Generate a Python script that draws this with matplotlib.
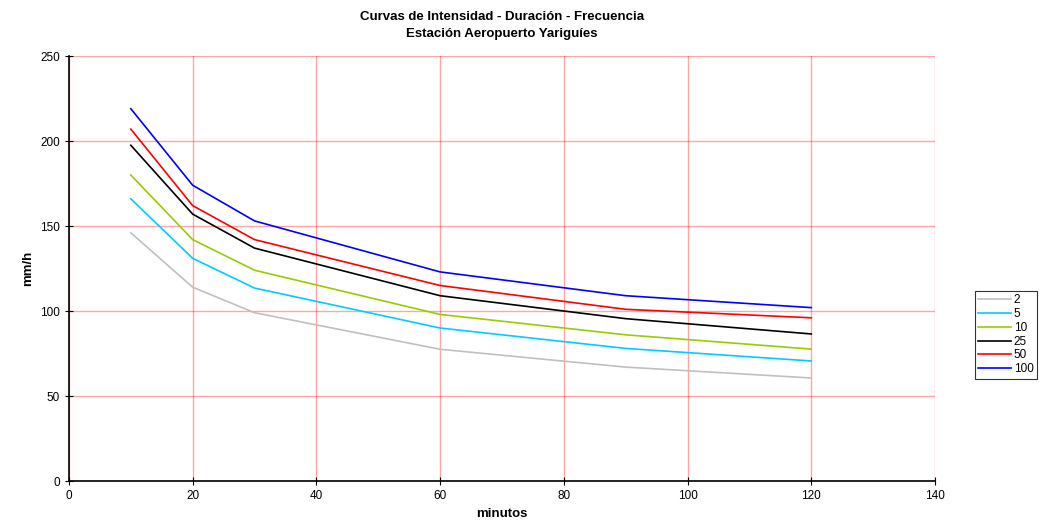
import matplotlib.pyplot as plt
from matplotlib import rcParams
rcParams['font.family'] = ['Liberation Sans', 'DejaVu Sans']

# duraciones (minutos) y periodos de retorno
minutos = [10, 20, 30, 60, 90, 120]
periodos = ['2', '5', '10', '25', '50', '100']
i_2 = [146, 114, 99, 77.5, 67, 60.6]
i_5 = [166, 131, 113.5, 90, 78, 70.6]
i_10 = [180, 142, 124, 98, 86, 77.6]
i_25 = [197.5, 157, 137, 109, 95.5, 86.5]
i_50 = [207, 162, 142, 115, 101, 96]
i_100 = [219, 174, 153, 123, 109, 102]
series = [i_2, i_5, i_10, i_25, i_50, i_100]
colores = ['#C0C0C0', '#00CCFF', '#99CC00', '#000000', '#FF0000', '#0000FF']

fig = plt.figure(figsize=(10.4, 5.25), dpi=100)
ax = fig.add_axes([0.0663, 0.0838, 0.8327, 0.8095])

for vals, lab, c in zip(series, periodos, colores):
    ax.plot(minutos, vals, color=c, lw=1.2, label=lab)

ax.set_xlim(0, 140)
ax.set_ylim(0, 250)
ax.set_xticks(range(0, 141, 20))
ax.set_yticks(range(0, 251, 50))
ax.grid(True, color='#FF0000', alpha=0.35, lw=1)
ax.set_axisbelow(True)
for s in ['top', 'right']:
    ax.spines[s].set_visible(False)
ax.spines['left'].set_linewidth(1.2)
ax.spines['bottom'].set_linewidth(1.2)
ax.tick_params(direction='inout', length=6, labelsize=8.5)

ax.set_xlabel('minutos', fontsize=9.5, fontweight='bold')
ax.set_ylabel('mm/h', fontsize=9.5, fontweight='bold')
ax.set_title('Curvas de Intensidad - Duración - Frecuencia\nEstación Aeropuerto Yariguíes',
             fontsize=9.5, fontweight='bold', pad=14, linespacing=1.5)

leg = ax.legend(loc='center left', bbox_to_anchor=(1.046, 0.344), fontsize=8.5,
                frameon=True, fancybox=False, edgecolor='black', borderpad=0.3,
                labelspacing=0.15, handlelength=2.8, handletextpad=0.2,
                borderaxespad=0)
leg.get_frame().set_linewidth(0.8)

fig.savefig('out.png', dpi=100)
